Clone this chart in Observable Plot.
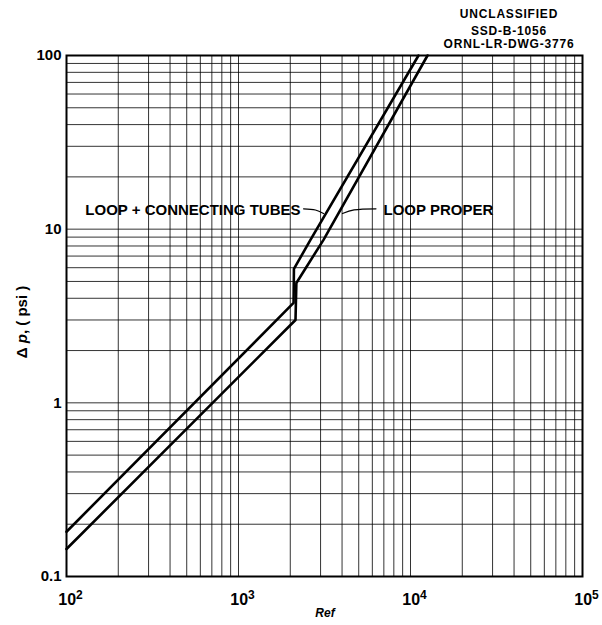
<!DOCTYPE html>
<html><head><meta charset="utf-8">
<script src="https://cdn.jsdelivr.net/npm/d3@7"></script>
<script src="https://cdn.jsdelivr.net/npm/@observablehq/plot@0.6"></script>
<style>
body{margin:0;background:#fff;}
#chart{position:relative;width:602px;height:625px;}
</style></head><body><div id="chart"></div>
<script>
// Curve: LOOP + CONNECTING TUBES
const reUpper = [100, 2090, 2100, 2620, 11130];
const dpUpper = [0.181, 3.76, 5.9, 8.68, 100];
// Curve: LOOP PROPER
const reLower = [100, 2145, 2170, 3120, 12560];
const dpLower = [0.144, 3.0, 4.9, 8.68, 100];

const xTicks = [100, 1000, 10000, 100000];
const yTicks = [0.1, 1, 10, 100];

const headerLines = ["UNCLASSIFIED", "SSD-B-1056", "ORNL-LR-DWG-3776"];
const annotLabels = ["LOOP + CONNECTING TUBES", "LOOP PROPER"];
const annotRe = [2293, 6966];
const annotDp = [12.9, 12.9];
const annotAnchor = ["end", "start"];
const leaderUpperRe = [2390, 2800, 3121];
const leaderUpperDp = [13.1, 12.9, 12.3];
const leaderLowerRe = [4024, 4700, 6300];
const leaderLowerDp = [12.3, 12.9, 13.1];

const upper = reUpper.map((r, i) => ({re: r, dp: dpUpper[i]}));
const lower = reLower.map((r, i) => ({re: r, dp: dpLower[i]}));
const annots = annotLabels.map((t, i) => ({text: t, re: annotRe[i], dp: annotDp[i], anchor: annotAnchor[i]}));
const leaderU = leaderUpperRe.map((r, i) => ({re: r, dp: leaderUpperDp[i]}));
const leaderL = leaderLowerRe.map((r, i) => ({re: r, dp: leaderLowerDp[i]}));

const xGrid = d3.scaleLog().domain([100, 1e5]).ticks();
const yGrid = d3.scaleLog().domain([0.1, 100]).ticks();

const font = "'Liberation Sans', Arial, Helvetica, sans-serif";

const plot = Plot.plot({
  width: 602, height: 625,
  marginTop: 55, marginBottom: 49, marginLeft: 66, marginRight: 20,
  x: {type: "log", domain: [100, 1e5]},
  y: {type: "log", domain: [0.1, 100]},
  style: {fontFamily: font, background: "#fff", color: "#000"},
  marks: [
    Plot.ruleX(xGrid, {stroke: "#000", strokeWidth: 1, strokeOpacity: 0.8}),
    Plot.ruleY(yGrid, {stroke: "#000", strokeWidth: 1, strokeOpacity: 0.8}),
    Plot.frame({stroke: "#000", strokeWidth: 2}),
    Plot.line(upper, {x: "re", y: "dp", stroke: "#000", strokeWidth: 2.6, strokeLinejoin: "round"}),
    Plot.line(lower, {x: "re", y: "dp", stroke: "#000", strokeWidth: 2.6, strokeLinejoin: "round"}),
    Plot.line(leaderU, {x: "re", y: "dp", stroke: "#000", strokeWidth: 1.2, curve: "catmull-rom"}),
    Plot.line(leaderL, {x: "re", y: "dp", stroke: "#000", strokeWidth: 1.2, curve: "catmull-rom"}),
    Plot.text(annots.filter(d => d.anchor === "end"), {x: "re", y: "dp", text: "text", textAnchor: "end", fontSize: 15, fontWeight: "bold", fill: "#000"}),
    Plot.text(annots.filter(d => d.anchor === "start"), {x: "re", y: "dp", text: "text", textAnchor: "start", fontSize: 15, fontWeight: "bold", fill: "#000"}),
    Plot.axisX({ticks: xTicks, tickSize: 0, tickPadding: 17, fontSize: 16, fontWeight: "bold", dx: 4,
      tickFormat: d => "10^" + Math.round(Math.log10(d)), label: null}),
    Plot.axisY({ticks: yTicks, tickSize: 0, tickPadding: 5, fontSize: 15, fontWeight: "bold",
      tickFormat: d => String(d), label: null})
  ]
});

document.getElementById("chart").appendChild(plot);
const svg = d3.select(plot);

// superscript exponents on x tick labels
svg.selectAll('g[aria-label="x-axis tick label"] text').each(function() {
  const t = this.textContent;
  if (!t.includes("^")) return;
  const [base, exp] = t.split("^");
  const el = d3.select(this);
  el.text(null);
  el.append("tspan").text(base);
  el.append("tspan").attr("dy", "-0.5em").attr("font-size", 12).text(exp);
});

// y axis label
const yl = svg.append("text")
  .attr("transform", "translate(27,322) rotate(-90)")
  .attr("text-anchor", "middle")
  .attr("font-family", font).attr("font-size", 15).attr("font-weight", "bold").attr("fill", "#000");
yl.append("tspan").text("Δ ");
yl.append("tspan").attr("font-style", "italic").text("p");
yl.append("tspan").text(", ( psi )");

// x axis label
svg.append("text")
  .attr("x", 325).attr("y", 617)
  .attr("text-anchor", "middle")
  .attr("font-family", font).attr("font-size", 12).attr("font-weight", "bold").attr("font-style", "italic")
  .attr("fill", "#000").text("Ref");

// header
const hb = [18, 35, 48];
headerLines.forEach((t, i) => {
  svg.append("text")
    .attr("x", 509).attr("y", hb[i])
    .attr("text-anchor", "middle")
    .attr("font-family", font).attr("font-size", 12).attr("font-weight", "bold")
    .attr("letter-spacing", 0.8).attr("fill", "#000").text(t);
});
</script>
</body></html>
